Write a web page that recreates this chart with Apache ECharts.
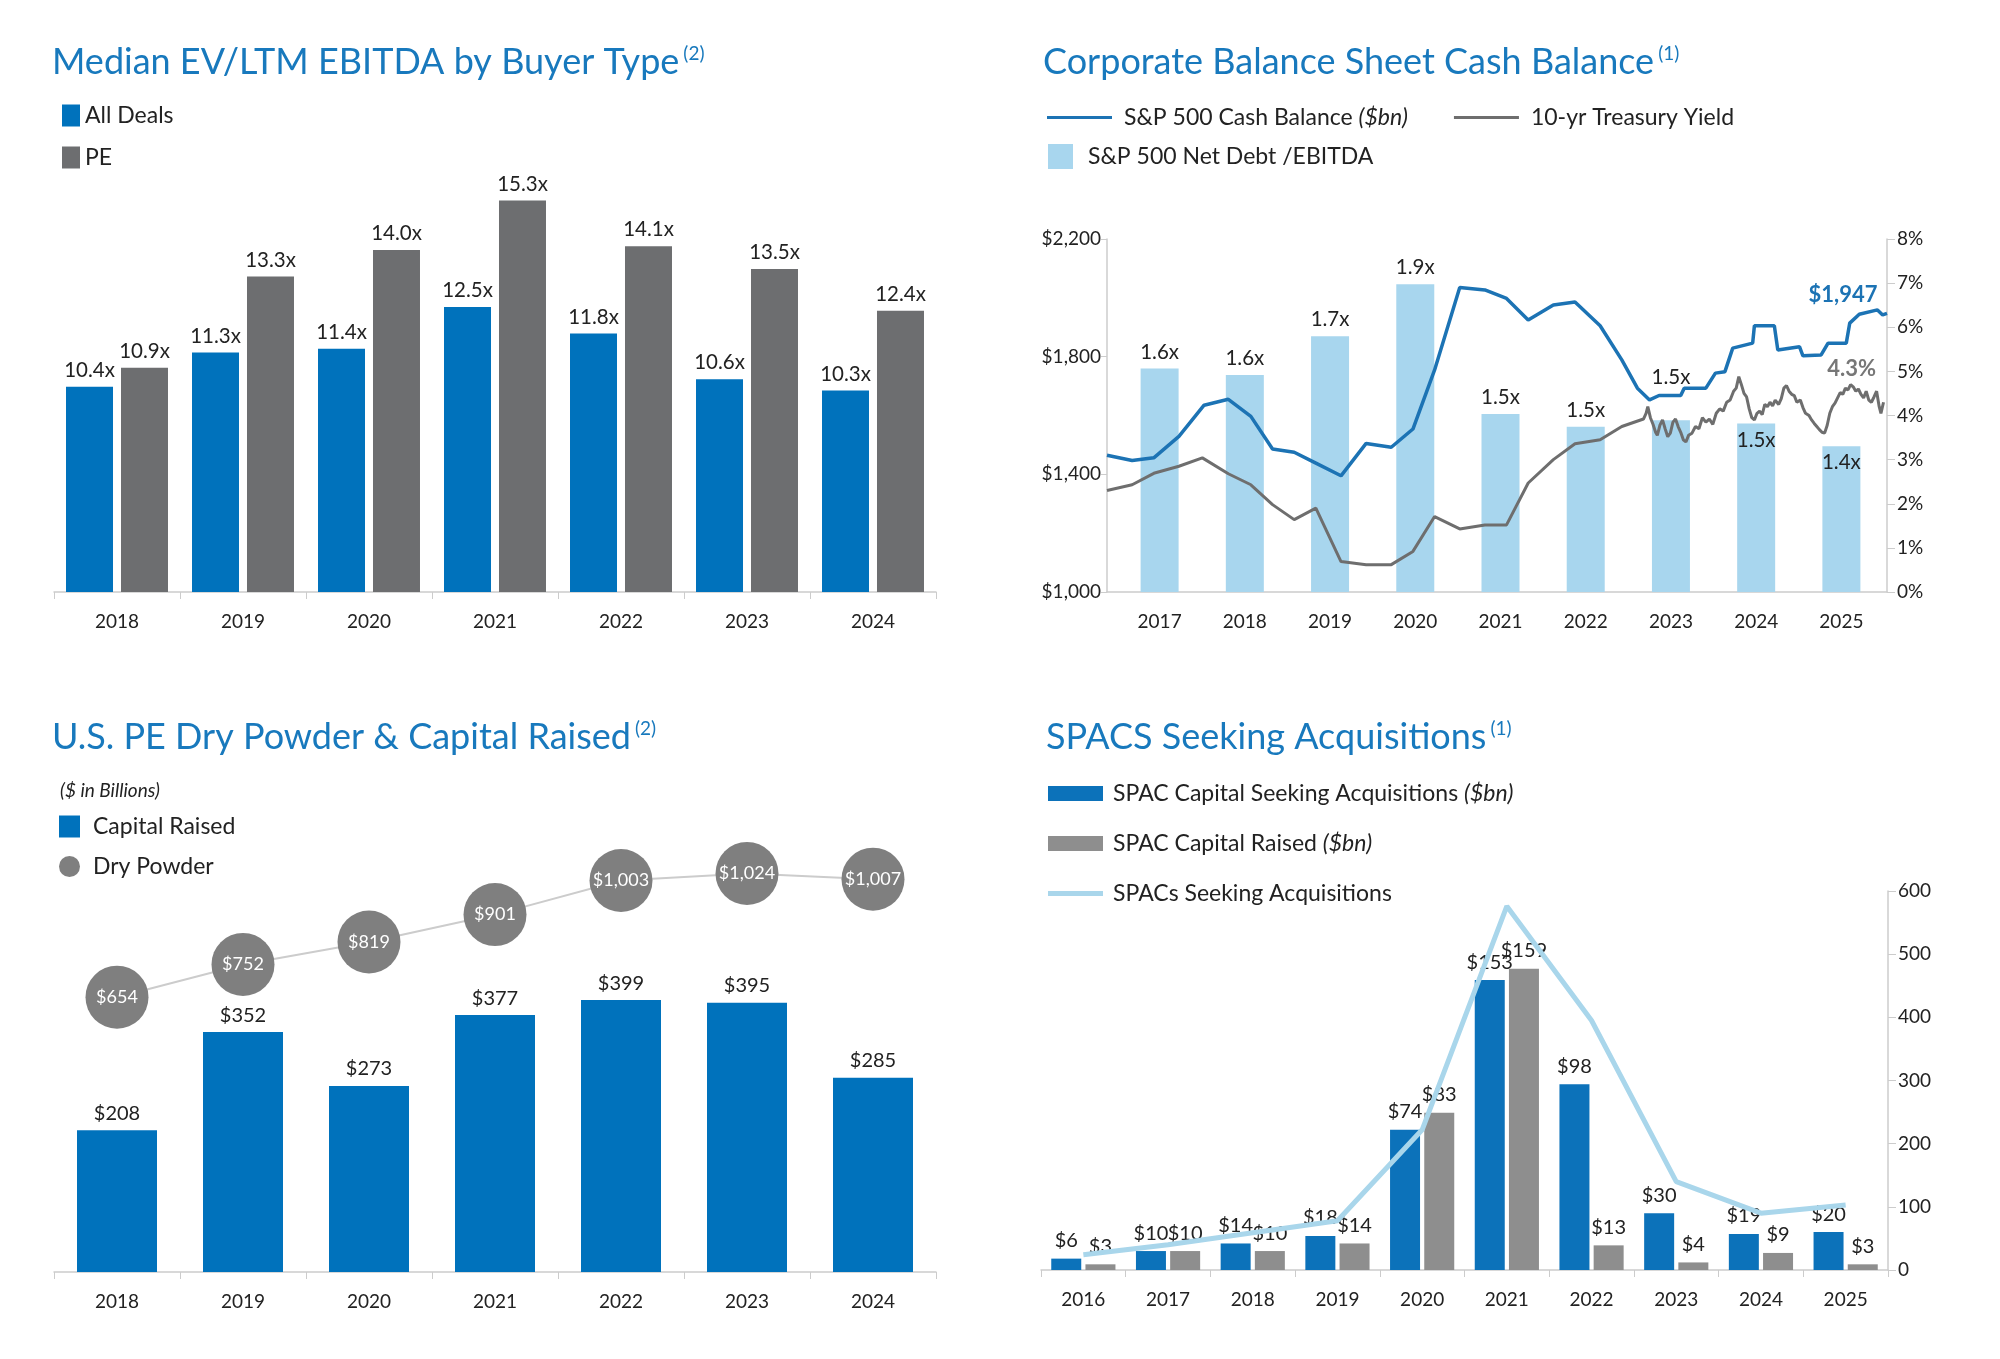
<!DOCTYPE html>
<html>
<head>
<meta charset="utf-8">
<script src="https://cdn.jsdelivr.net/npm/echarts@6/dist/echarts.min.js"></script>
<style>
  html, body { margin: 0; padding: 0; background: #fff; }
  #chart { width: 2000px; height: 1359px; }
</style>
</head>
<body>
<div id="chart"></div>
<script>
// ---- data ----
const evYears = ['2018', '2019', '2020', '2021', '2022', '2023', '2024'];
const evAllDeals = [10.4, 11.3, 11.4, 12.5, 11.8, 10.6, 10.3];
const evPE = [10.9, 13.3, 14.0, 15.3, 14.1, 13.5, 12.4];

const cbYears = ['2017', '2018', '2019', '2020', '2021', '2022', '2023', '2024', '2025'];
const netDebtEbitda = [1.64, 1.62, 1.74, 1.90, 1.50, 1.46, 1.48, 1.47, 1.40];
const cashDates = [2016.50, 2016.79, 2017.04, 2017.33, 2017.62, 2017.90, 2018.16, 2018.41, 2018.66, 2018.91,
  2019.20, 2019.49, 2019.78, 2020.03, 2020.28, 2020.57, 2020.86, 2021.11, 2021.36, 2021.65, 2021.90,
  2022.19, 2022.44, 2022.62, 2022.76, 2022.87, 2023.12, 2023.16, 2023.41, 2023.52, 2023.63, 2023.72,
  2023.95, 2023.97, 2024.20, 2024.24, 2024.49, 2024.53, 2024.74, 2024.82, 2025.03, 2025.07, 2025.18,
  2025.39, 2025.45, 2025.50];
const cashValues = [1465, 1447, 1456, 1529, 1635, 1655, 1597, 1486, 1475, 1438,
  1395, 1505, 1492, 1554, 1755, 2035, 2027, 1998, 1925, 1976, 1986,
  1905, 1789, 1693, 1653, 1668, 1668, 1693, 1693, 1744, 1749, 1829,
  1846, 1905, 1905, 1823, 1834, 1803, 1806, 1846, 1846, 1914, 1944,
  1959, 1942, 1947];
const yieldDates = [2016.50, 2016.79, 2017.04, 2017.33, 2017.60, 2017.90, 2018.16, 2018.41, 2018.66, 2018.91,
  2019.20, 2019.49, 2019.78, 2020.03, 2020.28, 2020.57, 2020.86, 2021.11, 2021.36, 2021.65, 2021.90,
  2022.19, 2022.44, 2022.69, 2022.72, 2022.74, 2022.77, 2022.80, 2022.83, 2022.85, 2022.88, 2022.91,
  2022.94, 2022.97, 2023.00, 2023.03, 2023.06, 2023.09, 2023.12, 2023.15, 2023.18, 2023.21, 2023.25,
  2023.29, 2023.33, 2023.37, 2023.41, 2023.45, 2023.49, 2023.53, 2023.57, 2023.61, 2023.65, 2023.69,
  2023.73, 2023.76, 2023.79, 2023.82, 2023.85, 2023.88, 2023.91, 2023.94, 2023.97, 2024.00, 2024.03,
  2024.06, 2024.09, 2024.12, 2024.15, 2024.18, 2024.21, 2024.25, 2024.28, 2024.31, 2024.34, 2024.37,
  2024.40, 2024.43, 2024.46, 2024.50, 2024.53, 2024.56, 2024.60, 2024.63, 2024.66, 2024.69, 2024.72,
  2024.75, 2024.78, 2024.81, 2024.84, 2024.87, 2024.90, 2024.93, 2024.96, 2024.99, 2025.02, 2025.05,
  2025.08, 2025.11, 2025.14, 2025.17, 2025.20, 2025.23, 2025.26, 2025.29, 2025.32, 2025.35, 2025.38,
  2025.41, 2025.43, 2025.46];
const yieldValues = [2.30, 2.43, 2.69, 2.85, 3.04, 2.68, 2.43, 1.98, 1.64, 1.90,
  0.69, 0.62, 0.62, 0.92, 1.71, 1.43, 1.52, 1.52, 2.47, 3.00, 3.36,
  3.45, 3.75, 3.92, 4.05, 4.20, 3.95, 3.80, 3.62, 3.55, 3.78, 3.90,
  3.70, 3.52, 3.60, 3.85, 3.92, 3.75, 3.62, 3.45, 3.40, 3.55, 3.60,
  3.75, 3.70, 3.95, 3.85, 3.92, 3.80, 4.05, 4.15, 4.10, 4.30, 4.35,
  4.55, 4.62, 4.88, 4.70, 4.50, 4.42, 4.15, 3.95, 3.90, 4.05, 4.10,
  4.02, 4.25, 4.20, 4.30, 4.22, 4.35, 4.25, 4.38, 4.62, 4.68, 4.55,
  4.48, 4.45, 4.30, 4.35, 4.18, 4.05, 4.00, 3.90, 3.82, 3.75, 3.68,
  3.62, 3.60, 3.78, 4.05, 4.20, 4.28, 4.40, 4.52, 4.48, 4.62, 4.58,
  4.70, 4.65, 4.55, 4.60, 4.48, 4.40, 4.55, 4.35, 4.30, 4.42, 4.55,
  4.20, 4.05, 4.30];

const pdYears = ['2018', '2019', '2020', '2021', '2022', '2023', '2024'];
const capitalRaised = [208, 352, 273, 377, 399, 395, 285];
const dryPowder = [654, 752, 819, 901, 1003, 1024, 1007];

const spacYears = ['2016', '2017', '2018', '2019', '2020', '2021', '2022', '2023', '2024', '2025'];
const spacSeeking = [6, 10, 14, 18, 74, 153, 98, 30, 19, 20];
const spacRaised = [3, 10, 10, 14, 83, 159, 13, 4, 9, 3];
const spacCount = [24, 40, 59, 78, 222, 576, 395, 140, 90, 103];

// ---- styles ----
const FONT = 'Lato';
const TITLE = '#1879bd';
const INK = '#222222';
const AXIS = '#cccccc';
const BLUE = '#0072bc';
const DARKGRAY = '#6d6e70';
const LIGHTBLUE = '#a8d6ee';
const CASHBLUE = '#1c73b4';
const YIELDGRAY = '#6e6e6e';
const SPACGRAY = '#8e8e8e';
const COUNTBLUE = '#a9d6eb';

const money = (v) => '$' + Math.round(v).toLocaleString('en-US');

const titleRich = {
  t: { fontSize: 36, color: TITLE, fontFamily: FONT, fontWeight: 'normal' },
  s: { fontSize: 19, color: TITLE, fontFamily: FONT, fontWeight: 'normal', verticalAlign: 'top', padding: [0, 0, 0, 4] }
};
const legendText = { fontSize: 23, color: INK, fontFamily: FONT,
  rich: { i: { fontSize: 23, fontStyle: 'italic', color: INK, fontFamily: FONT } } };

// label placement for the net debt/EBITDA bars
const ndLabelPos = { 6: { position: 'top', offset: [0, -26] }, 7: { position: 'insideTop' }, 8: { position: 'insideTop' } };

const cashData = cashDates.map((d, i) => [d, cashValues[i]]);
const yieldData = yieldDates.map((d, i) => [d, yieldValues[i]]);

const catAxis = (gridIndex, data, tick) => ({
  type: 'category', gridIndex, data,
  axisLine: { show: true, lineStyle: { color: AXIS, width: 1.5 } },
  axisTick: { show: tick, length: 7, lineStyle: { color: AXIS } },
  axisLabel: { fontSize: 19, color: INK, fontFamily: FONT, margin: 20 }
});
const hiddenY = (gridIndex, min, max) => ({ type: 'value', gridIndex, min, max, show: false, splitLine: { show: false } });
const mkTitle = (left, top, text) => ({ left, top, padding: 0, text, textStyle: { fontWeight: 'normal', rich: titleRich } });

const chart = echarts.init(document.getElementById('chart'), null, { renderer: 'canvas' });

const option = {
  backgroundColor: '#ffffff',
  animation: false,
  textStyle: { fontFamily: FONT },
  title: [
    mkTitle(52, 44, '{t|Median EV/LTM EBITDA by Buyer Type}{s|(2)}'),
    mkTitle(1043, 44, '{t|Corporate Balance Sheet Cash Balance}{s|(1)}'),
    mkTitle(52, 719, '{t|U.S. PE Dry Powder & Capital Raised}{s|(2)}'),
    mkTitle(1046, 719, '{t|SPACS Seeking Acquisitions}{s|(1)}'),
    { left: 60, top: 781, padding: 0, text: '($ in Billions)',
      textStyle: { fontSize: 19, fontStyle: 'italic', fontWeight: 'normal', color: INK, fontFamily: FONT } }
  ],
  legend: [
    { left: 62, top: 104, padding: 0, orient: 'vertical', itemWidth: 18, itemHeight: 22, itemGap: 19, icon: 'rect',
      textStyle: legendText, data: ['All Deals', 'PE'] },
    { left: 1047, top: 106, padding: 0, orient: 'horizontal', itemWidth: 65, itemHeight: 3, itemGap: 46, icon: 'rect',
      textStyle: Object.assign({ padding: [0, 0, 0, 7] }, legendText),
      formatter: (n) => n === 'S&P 500 Cash Balance' ? n + ' {i|($bn)}' : n,
      data: ['S&P 500 Cash Balance', '10-yr Treasury Yield'] },
    { left: 1048, top: 144, padding: 0, orient: 'horizontal', itemWidth: 25, itemHeight: 25, icon: 'rect',
      textStyle: Object.assign({ padding: [0, 0, 0, 10] }, legendText),
      data: ['S&P 500 Net Debt /EBITDA'] },
    { left: 59, top: 815, padding: 0, orient: 'vertical', itemWidth: 21, itemHeight: 22, itemGap: 17,
      textStyle: Object.assign({ padding: [0, 0, 0, 8] }, legendText),
      data: [{ name: 'Capital Raised', icon: 'rect' }, { name: 'Dry Powder', icon: 'circle' }] },
    { left: 1048, top: 782, padding: 0, orient: 'vertical', itemWidth: 55, itemHeight: 15, itemGap: 27, icon: 'rect',
      textStyle: Object.assign({ padding: [0, 0, 0, 5] }, legendText),
      formatter: (n) => n + ' {i|($bn)}',
      data: ['SPAC Capital Seeking Acquisitions', 'SPAC Capital Raised'] },
    { left: 1048, top: 882, padding: 0, orient: 'vertical', itemWidth: 55, itemHeight: 5, icon: 'rect',
      textStyle: Object.assign({ padding: [0, 0, 0, 5] }, legendText),
      data: ['SPACs Seeking Acquisitions'] }
  ],
  grid: [
    { left: 54, top: 174, width: 882, height: 418 },      // 0 EV/EBITDA
    { left: 1107, top: 239, width: 780, height: 353 },    // 1 cash lines + axes
    { left: 1117, top: 239, width: 767, height: 353 },    // 2 net debt bars
    { left: 54, top: 829, width: 882, height: 443 },      // 3 dry powder
    { left: 1041, top: 891, width: 847, height: 379 }     // 4 SPACs
  ],
  xAxis: [
    catAxis(0, evYears, true),
    { type: 'value', gridIndex: 1, min: 2016.5, max: 2025.5, axisLine: { show: true, onZero: false, lineStyle: { color: AXIS, width: 1.5 } },
      axisTick: { show: false }, axisLabel: { show: false }, splitLine: { show: false } },
    Object.assign(catAxis(2, cbYears, false), { axisLine: { show: false } }),
    catAxis(3, pdYears, true),
    catAxis(4, spacYears, true)
  ],
  yAxis: [
    hiddenY(0, 5, 16),
    { type: 'value', gridIndex: 1, min: 1000, max: 2200, interval: 400, position: 'left',
      axisLine: { show: true, lineStyle: { color: AXIS, width: 1.5 } }, axisTick: { show: true, length: 6, lineStyle: { color: AXIS } },
      axisLabel: { fontSize: 19, color: INK, fontFamily: FONT, margin: 6, formatter: money }, splitLine: { show: false } },
    { type: 'value', gridIndex: 1, min: 0, max: 8, interval: 1, position: 'right',
      axisLine: { show: true, lineStyle: { color: AXIS, width: 1.5 } }, axisTick: { show: true, length: 8, lineStyle: { color: AXIS } },
      axisLabel: { fontSize: 19, color: INK, fontFamily: FONT, margin: 10, formatter: '{value}%' }, splitLine: { show: false } },
    hiddenY(2, 0.95, 2.04),
    hiddenY(3, 0, 650),
    hiddenY(3, -168, 1157),
    hiddenY(4, 0, 200),
    { type: 'value', gridIndex: 4, min: 0, max: 600, interval: 100, position: 'right',
      axisLine: { show: true, lineStyle: { color: AXIS, width: 1.5 } }, axisTick: { show: true, length: 8, lineStyle: { color: AXIS } },
      axisLabel: { fontSize: 19, color: INK, fontFamily: FONT, margin: 10 }, splitLine: { show: false } }
  ],
  series: [
    // --- Median EV/LTM EBITDA ---
    { name: 'All Deals', type: 'bar', xAxisIndex: 0, yAxisIndex: 0, data: evAllDeals, barWidth: 47, barGap: '17%',
      itemStyle: { color: BLUE },
      label: { show: true, position: 'top', distance: 6, fontSize: 20.5, color: INK, formatter: (p) => p.value.toFixed(1) + 'x' } },
    { name: 'PE', type: 'bar', xAxisIndex: 0, yAxisIndex: 0, data: evPE, barWidth: 47, barGap: '17%',
      itemStyle: { color: DARKGRAY },
      label: { show: true, position: 'top', distance: 6, fontSize: 20.5, color: INK, formatter: (p) => p.value.toFixed(1) + 'x' } },

    // --- Corporate cash balance ---
    { name: 'S&P 500 Net Debt /EBITDA', type: 'bar', xAxisIndex: 2, yAxisIndex: 3, barWidth: 38, z: 1,
      itemStyle: { color: LIGHTBLUE },
      data: netDebtEbitda.map((v, i) => ndLabelPos[i] ? { value: v, label: ndLabelPos[i] } : v),
      label: { show: true, position: 'top', distance: 6, fontSize: 20.5, color: INK, formatter: (p) => p.value.toFixed(1) + 'x' } },
    { name: '10-yr Treasury Yield', type: 'line', xAxisIndex: 1, yAxisIndex: 2, data: yieldData, symbol: 'none', z: 3,
      itemStyle: { color: YIELDGRAY }, lineStyle: { color: YIELDGRAY, width: 3 },
      endLabel: { show: true, align: 'center', distance: 0, offset: [-32, -33], fontSize: 22, fontWeight: 'bold',
        color: '#777777', fontFamily: FONT, formatter: (p) => p.value[1].toFixed(1) + '%' } },
    { name: 'S&P 500 Cash Balance', type: 'line', xAxisIndex: 1, yAxisIndex: 1, data: cashData, symbol: 'none', z: 4,
      itemStyle: { color: CASHBLUE }, lineStyle: { color: CASHBLUE, width: 3.5 },
      endLabel: { show: true, align: 'center', distance: 0, offset: [-44, -19], fontSize: 22, fontWeight: 'bold',
        color: CASHBLUE, fontFamily: FONT, formatter: (p) => money(p.value[1]) } },

    // --- Dry powder & capital raised ---
    { name: 'Capital Raised', type: 'bar', xAxisIndex: 3, yAxisIndex: 4, data: capitalRaised, barWidth: 80,
      itemStyle: { color: BLUE },
      label: { show: true, position: 'top', distance: 7, fontSize: 20, color: INK, formatter: (p) => money(p.value) } },
    { name: 'Dry Powder', type: 'line', xAxisIndex: 3, yAxisIndex: 5, data: dryPowder, z: 5,
      symbol: 'circle', symbolSize: 63, itemStyle: { color: '#7f7f7f' }, lineStyle: { color: '#cccccc', width: 2 },
      label: { show: true, position: 'inside', fontSize: 18, color: '#ffffff', formatter: (p) => money(p.value) } },

    // --- SPACs ---
    { name: 'SPAC Capital Seeking Acquisitions', type: 'bar', xAxisIndex: 4, yAxisIndex: 6, data: spacSeeking,
      barWidth: 30, barGap: '14%', itemStyle: { color: '#0c72ba' },
      label: { show: true, position: 'top', distance: 8, fontSize: 20, color: INK, formatter: (p) => money(p.value) } },
    { name: 'SPAC Capital Raised', type: 'bar', xAxisIndex: 4, yAxisIndex: 6, data: spacRaised,
      barWidth: 30, barGap: '14%', itemStyle: { color: SPACGRAY },
      label: { show: true, position: 'top', distance: 8, fontSize: 20, color: INK, formatter: (p) => money(p.value) } },
    { name: 'SPACs Seeking Acquisitions', type: 'line', xAxisIndex: 4, yAxisIndex: 7, data: spacCount, z: 3,
      symbol: 'none', itemStyle: { color: COUNTBLUE }, lineStyle: { color: COUNTBLUE, width: 5 } }
  ]
};

chart.setOption(option);
</script>
</body>
</html>
